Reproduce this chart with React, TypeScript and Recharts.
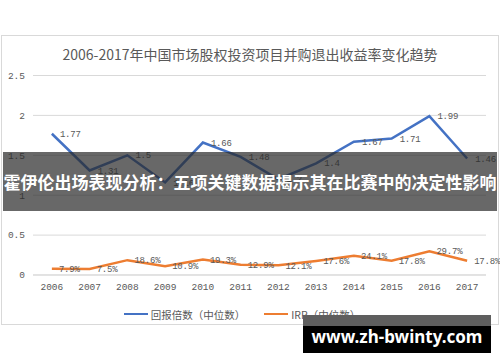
import React from 'react';
import {
  LineChart,
  Line,
  XAxis,
  YAxis,
  CartesianGrid,
  Legend,
  LabelList
} from 'recharts';

const years = ['2006', '2007', '2008', '2009', '2010', '2011', '2012', '2013', '2014', '2015', '2016', '2017'];
// 回报倍数（中位数）
const multiples = [1.77, 1.31, 1.5, 1.16, 1.66, 1.48, 1.2, 1.4, 1.67, 1.71, 1.99, 1.46];
// IRR（中位数），单位 %
const irrPercent = [7.9, 7.5, 18.6, 10.9, 19.3, 12.9, 12.1, 17.6, 24.1, 17.8, 29.7, 17.8];
const yTicks = [0, 0.5, 1, 1.5, 2, 2.5];

const title = '2006-2017年中国市场股权投资项目并购退出收益率变化趋势';
const seriesNames = ['回报倍数（中位数）', 'IRR（中位数）'];
const bannerText = '霍伊伦出场表现分析：五项关键数据揭示其在比赛中的决定性影响';
const watermark = 'www.zh-bwinty.com';

const data = years.map((year, i) => ({
  year,
  multiple: multiples[i],
  irr: irrPercent[i] / 100
}));

const BLUE = '#4472C4';
const ORANGE = '#ED7D31';
const TEXT = '#595959';
const GRID = '#D9D9D9';
const NUM_FONT = '"Liberation Mono", monospace';
const CJK_FONT = '"Noto Sans CJK SC", "Noto Sans", sans-serif';

function LegendContent() {
  const items = [
    { name: seriesNames[0], color: BLUE },
    { name: seriesNames[1], color: ORANGE }
  ];
  return (
    <div
      style={{
        display: 'flex',
        justifyContent: 'center',
        alignItems: 'center',
        height: 20,
        gap: 19,
        paddingRight: 4,
        fontFamily: CJK_FONT,
        fontSize: 10.5,
        color: TEXT
      }}
    >
      {items.map((it) => (
        <div key={it.name} style={{ display: 'flex', alignItems: 'center' }}>
          <span
            style={{
              display: 'inline-block',
              width: 24,
              height: 2.5,
              background: it.color,
              marginRight: 3
            }}
          />
          <span>{it.name}</span>
        </div>
      ))}
    </div>
  );
}

const labelStyle = {
  fill: TEXT,
  fontSize: 9,
  fontFamily: NUM_FONT,
  letterSpacing: -0.2
};

export default function App() {
  return (
    <div
      style={{
        position: 'absolute',
        left: 0,
        top: 0,
        width: 500,
        height: 362,
        background: '#fff',
        overflow: 'hidden'
      }}
    >
      <div
        style={{
          position: 'absolute',
          left: 1,
          top: 35,
          width: 498,
          height: 290,
          border: `1px solid ${GRID}`,
          boxSizing: 'border-box'
        }}
      >
        <div
          style={{
            position: 'absolute',
            left: 0,
            top: 8,
            width: 496,
            textAlign: 'center',
            fontFamily: CJK_FONT,
            fontSize: 14,
            lineHeight: '20px',
            color: TEXT
          }}
        >
          {title}
        </div>
        <LineChart
          width={500}
          height={288}
          data={data}
          margin={{ top: 39.5, right: 16, left: 0, bottom: 0 }}
        >
          <CartesianGrid horizontal vertical={false} stroke={GRID} />
          <XAxis
            dataKey="year"
            scale="band"
            height={29}
            tickSize={0}
            tickMargin={8}
            axisLine={{ stroke: GRID }}
            tickLine={false}
            tick={{ fill: TEXT, fontSize: 9.5, fontFamily: NUM_FONT }}
          />
          <YAxis
            width={31}
            domain={[0, 2.5]}
            ticks={yTicks}
            tickSize={0}
            tickMargin={8}
            axisLine={false}
            tickLine={false}
            tick={{ fill: TEXT, fontSize: 9.5, fontFamily: NUM_FONT }}
          />
          <Legend verticalAlign="bottom" height={20} content={() => <LegendContent />} />
          <Line
            type="linear"
            dataKey="multiple"
            name={seriesNames[0]}
            stroke={BLUE}
            strokeWidth={2.5}
            dot={false}
            isAnimationActive={false}
          >
            <LabelList dataKey="multiple" position="right" offset={8} style={labelStyle} />
          </Line>
          <Line
            type="linear"
            dataKey="irr"
            name={seriesNames[1]}
            stroke={ORANGE}
            strokeWidth={2.5}
            dot={false}
            isAnimationActive={false}
          >
            <LabelList
              dataKey="irr"
              position="right"
              offset={7}
              style={labelStyle}
              formatter={(v: number) => `${(v * 100).toFixed(1)}%`}
            />
          </Line>
        </LineChart>
      </div>

      <div
        style={{
          position: 'absolute',
          left: 3,
          top: 152,
          width: 494,
          height: 59,
          background: 'rgba(40,40,40,0.7)',
          color: '#fff',
          fontFamily: CJK_FONT,
          fontWeight: 700,
          fontSize: 17,
          lineHeight: '59px',
          textAlign: 'center',
          whiteSpace: 'nowrap'
        }}
      >
        {bannerText}
      </div>

      <div
        style={{
          position: 'absolute',
          left: 303,
          top: 315,
          width: 188,
          height: 38,
          background: 'linear-gradient(#5e5e5e 0 11px, #000 11px)',
          color: '#fff',
          fontFamily: '"Noto Sans", sans-serif',
          fontWeight: 700,
          fontSize: 17,
          lineHeight: '38px',
          textAlign: 'center',
          paddingTop: 3,
          boxSizing: 'border-box'
        }}
      >
        {watermark}
      </div>
    </div>
  );
}
